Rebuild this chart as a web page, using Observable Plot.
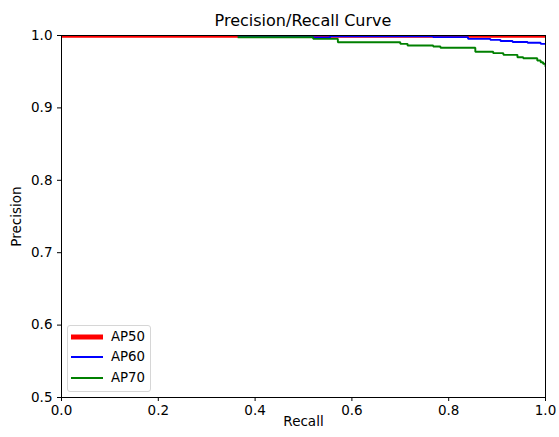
<!DOCTYPE html>
<html>
<head>
<meta charset="utf-8">
<script src="https://cdn.jsdelivr.net/npm/d3@7"></script>
<script src="https://cdn.jsdelivr.net/npm/@observablehq/plot@0.6"></script>
<style>
  body { margin: 0; background: white; }
  #wrap { position: relative; width: 559px; height: 437px; font-family: "DejaVu Sans", sans-serif; color: black; }
  #title { position: absolute; left: 61px; width: 484px; top: 12.5px; font-size: 16px; line-height: 16px; text-align: center; }
  #chart { position: absolute; left: 0; top: 28px; }
  #legend { position: absolute; left: 67px; top: 325px; width: 82px; height: 65px; border: 1px solid #d6d6d6; border-radius: 3px; background: rgba(255,255,255,0.8); }
  .row { position: absolute; left: 0; height: 20px; width: 82px; font-size: 13.3px; line-height: 20px; }
  .row span { position: absolute; left: 43px; top: 0; }
  .row svg { position: absolute; left: 3px; top: 0; }
</style>
</head>
<body>
<div id="wrap">
  <div id="title"></div>
  <div id="chart"></div>
  <div id="legend"></div>
</div>
<script>
const titleText = "Precision/Recall Curve";
const xLabel = "Recall";
const yLabel = "Precision";
const xTicks = [0, 0.2, 0.4, 0.6, 0.8, 1.0];
const yTicks = [0.5, 0.6, 0.7, 0.8, 0.9, 1.0];

const seriesNames = ["AP50", "AP60", "AP70"];
const seriesColors = ["#ff0000", "#0000ff", "#008000"];
const seriesWidths = [4.5, 1.9, 1.9];

// AP50
const recallAP50 = [0.0, 1.0];
const precisionAP50 = [1.0, 1.0];

// AP60
const recallAP60 = [0.364, 0.52, 0.555, 0.768, 0.84, 0.886, 0.907, 0.932, 0.963, 0.99, 1.0];
const precisionAP60 = [0.999, 0.9972, 0.999, 0.9977, 0.9954, 0.994, 0.9925, 0.991, 0.990, 0.9885, 0.9876];

// AP70
const recallAP70 = [0.364, 0.52, 0.571, 0.70, 0.715, 0.768, 0.783, 0.855, 0.892, 0.913, 0.942, 0.954, 0.983, 0.99, 0.995, 1.0];
const precisionAP70 = [0.9975, 0.9954, 0.9907, 0.9885, 0.9862, 0.9848, 0.983, 0.9775, 0.9756, 0.9733, 0.970, 0.9686, 0.9655, 0.963, 0.961, 0.957];

const toRows = (r, p) => r.map((d, i) => ({recall: d, precision: p[i]}));
const data = [toRows(recallAP50, precisionAP50), toRows(recallAP60, precisionAP60), toRows(recallAP70, precisionAP70)];

document.getElementById("title").textContent = titleText;

const chart = Plot.plot({
  width: 559,
  height: 409,
  marginTop: 7,
  marginBottom: 40,
  marginLeft: 61,
  marginRight: 14,
  style: {fontFamily: "DejaVu Sans, sans-serif", fontSize: "13.5px", color: "black", background: "white"},
  x: {domain: [0, 1]},
  y: {domain: [0.5, 1]},
  marks: [
    ...data.map((rows, i) => Plot.line(rows, {
      x: "recall", y: "precision", stroke: seriesColors[i], strokeWidth: seriesWidths[i],
      curve: "step-after", clip: true, strokeLinejoin: "miter", strokeLinecap: "butt"
    })),
    Plot.frame({stroke: "black", strokeWidth: 1}),
    Plot.axisX({ticks: xTicks, tickFormat: d3.format(".1f"), tickSize: 4, tickPadding: 4,
      label: xLabel, labelAnchor: "center", labelArrow: "none", labelOffset: 28}),
    Plot.axisY({ticks: yTicks, tickFormat: d3.format(".1f"), tickSize: 4, tickPadding: 5,
      label: yLabel, labelAnchor: "center", labelArrow: "none", labelOffset: 50})
  ]
});
document.getElementById("chart").appendChild(chart);

const legend = document.getElementById("legend");
seriesNames.forEach((name, i) => {
  const row = document.createElement("div");
  row.className = "row";
  row.style.top = (1 + i * 20.3) + "px";
  row.innerHTML = `<svg width="34" height="20"><line x1="0" x2="32" y1="10" y2="10" stroke="${seriesColors[i]}" stroke-width="${i === 0 ? 5 : 2}"/></svg><span>${name}</span>`;
  legend.appendChild(row);
});
</script>
</body>
</html>
